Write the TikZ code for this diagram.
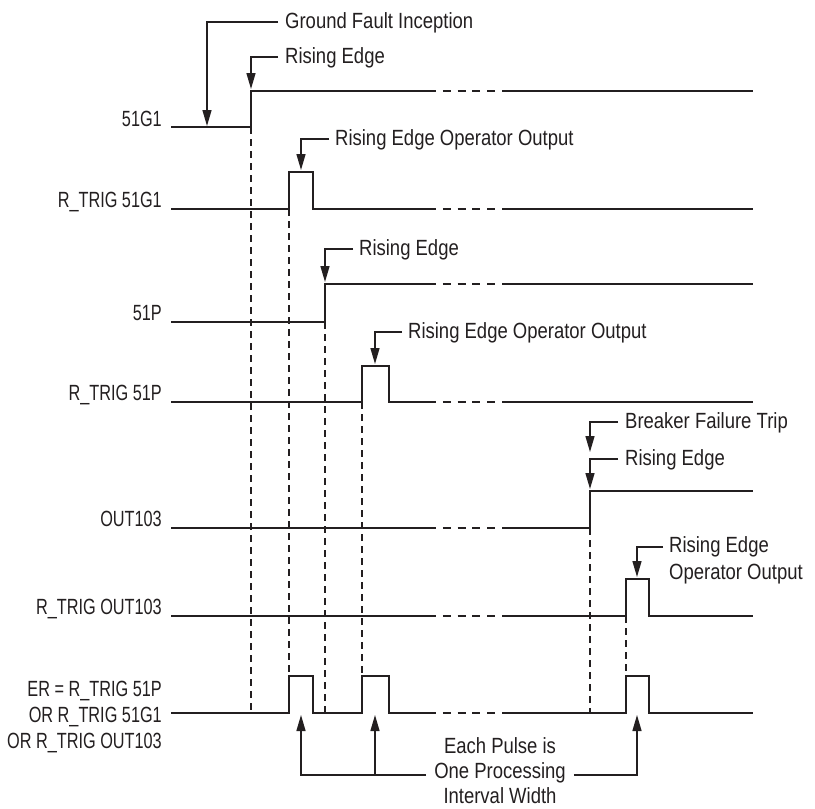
\documentclass[tikz,border=0pt]{standalone}
\usepackage{fontspec}
\setmainfont{Liberation Sans}[FakeStretch=0.84]
\newfontfamily\lblfont{Liberation Sans}[FakeStretch=0.74]
\usetikzlibrary{arrows.meta}
\definecolor{ink}{HTML}{231F20}
\begin{document}
\begin{tikzpicture}[x=1pt,y=-1pt,
  wave/.style={line width=1.6pt, draw=ink},
  gapline/.style={line width=1.6pt, draw=ink, dash pattern=on 8pt off 6.8pt, dash phase=8pt},
  guide/.style={line width=1.3pt, draw=ink, dash pattern=on 7pt off 5pt},
  callout/.style={line width=1.4pt, draw=ink, -{Triangle[length=16pt,width=9pt]}},
  ann/.style={inner sep=0pt, text height=16pt, text depth=4pt, anchor=base west, font=\fontsize{22}{26}\selectfont, text=ink},
  sig/.style={inner sep=0pt, anchor=base east, font=\fontsize{22}{26}\selectfont\lblfont, text=ink},
]
\useasboundingbox (0,0) rectangle (815,809);

% signal labels
\node[sig] (l1) at (162,126) {51G1};
\node[sig] (l2) at (162,207) {R\_TRIG 51G1};
\node[sig] (l3) at (162,320) {51P};
\node[sig] (l4) at (162,400) {R\_TRIG 51P};
\node[sig] (l5) at (162,526) {OUT103};
\node[sig] (l6) at (162,614) {R\_TRIG OUT103};
\node[sig, anchor=east, align=right, font=\fontsize{22}{26}\selectfont\lblfont] (l7) at (162,717) {ER = R\_TRIG 51P\\OR R\_TRIG 51G1\\OR R\_TRIG OUT103};

% waveforms
\draw[wave] (171,127) -- (251,127) -- (251,91) -- (436,91);
\draw[gapline] (436,91) -- (502,91);
\draw[wave] (502,91) -- (753,91);

\draw[wave] (171,209) -- (289,209) -- (289,172) -- (313,172) -- (313,209) -- (436,209);
\draw[gapline] (436,209) -- (502,209);
\draw[wave] (502,209) -- (753,209);

\draw[wave] (171,322) -- (325,322) -- (325,284) -- (436,284);
\draw[gapline] (436,284) -- (502,284);
\draw[wave] (502,284) -- (753,284);

\draw[wave] (171,402) -- (362,402) -- (362,366) -- (389,366) -- (389,402) -- (436,402);
\draw[gapline] (436,402) -- (502,402);
\draw[wave] (502,402) -- (753,402);

\draw[wave] (171,528) -- (436,528);
\draw[gapline] (436,528) -- (502,528);
\draw[wave] (502,528) -- (590,528) -- (590,491) -- (753,491);

\draw[wave] (171,616) -- (436,616);
\draw[gapline] (436,616) -- (502,616);
\draw[wave] (502,616) -- (626,616) -- (626,579) -- (649,579) -- (649,616) -- (753,616);

\draw[wave] (171,713) -- (289,713) -- (289,676) -- (313,676) -- (313,713) -- (362,713) -- (362,676) -- (389,676) -- (389,713) -- (436,713);
\draw[gapline] (436,713) -- (502,713);
\draw[wave] (502,713) -- (626,713) -- (626,676) -- (649,676) -- (649,713) -- (753,713);

% vertical guides
\draw[guide] (251,127) -- (251,713);
\draw[guide] (289,209) -- (289,676);
\draw[guide] (325,322) -- (325,713);
\draw[guide] (362,402) -- (362,676);
\draw[guide] (590,528) -- (590,713);
\draw[guide] (626,616) -- (626,676);

% arrow targets
\coordinate (t1) at (207,126);
\coordinate (t2) at (251,89);
\coordinate (t3) at (301,170);
\coordinate (t4) at (325,282);
\coordinate (t5) at (375,364);
\coordinate (t6) at (590,452);
\coordinate (t7) at (590,489);
\coordinate (t8) at (637,577);
\coordinate (b1) at (301,715);
\coordinate (b2) at (375,715);
\coordinate (b3) at (637,715);

% annotations
\node[ann] (gfi) at (285,28) {Ground Fault Inception};
\node[ann] (re1) at (285,63) {Rising Edge};
\node[ann] (ro1) at (335,145) {Rising Edge Operator Output};
\node[ann] (re2) at (359,255) {Rising Edge};
\node[ann] (ro2) at (408,338) {Rising Edge Operator Output};
\node[ann] (bft) at (625,428) {Breaker Failure Trip};
\node[ann] (re3) at (625,465) {Rising Edge};
\node[inner sep=0pt, anchor=north west, align=left, font=\fontsize{22}{27}\selectfont, text=ink] (ro3) at (669,536) {Rising Edge\\Operator Output};
\node[inner sep=0pt, align=center, font=\fontsize{22}{25}\selectfont, text=ink] (ep) at (500,771) {Each Pulse is\\One Processing\\Interval Width};
\path ([xshift=-8pt,yshift=-4pt]ep.west) coordinate (epw);
\path ([xshift=8pt,yshift=-4pt]ep.east) coordinate (epe);

\draw[callout] ([xshift=-7pt]gfi.west) -| (t1);
\draw[callout] ([xshift=-7pt]re1.west) -| (t2);
\draw[callout] ([xshift=-6pt]ro1.west) -| (t3);
\draw[callout] ([xshift=-6pt]re2.west) -| (t4);
\draw[callout] ([xshift=-6pt]ro2.west) -| (t5);
\draw[callout] ([xshift=-7pt]bft.west) -| (t6);
\draw[callout] ([xshift=-7pt]re3.west) -| (t7);
\draw[callout] ([xshift=-6pt,yshift=-11pt]ro3.north west) -| (t8);
\draw[callout] (epw) -| (b1);
\draw[callout] (b2 |- epw) -- (b2);
\draw[callout] (epe) -| (b3);
\end{tikzpicture}
\end{document}
